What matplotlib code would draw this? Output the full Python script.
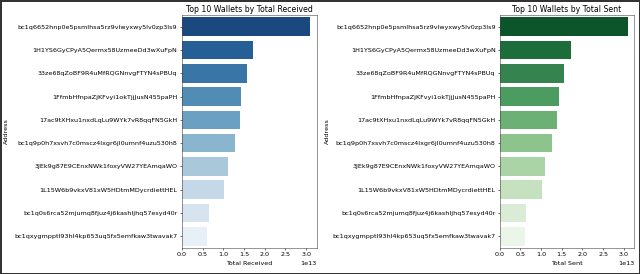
import matplotlib
matplotlib.use('Agg')
import matplotlib.pyplot as plt
import seaborn as sns
import pandas as pd

# wallet addresses (same top 10 for both rankings)
addresses = [
    'bc1q6652hnp0e5psmlhsa5rz9vlwyxwy5lv0zp3ls9',
    '1H1YS6GyCPyA5Qermx58UzmeeDd3wXuFpN',
    '33ze68qZoBF9R4uMfRQGNnvgFTYN4sPBUq',
    '1FfmbHfnpaZjKFvyi1okTjjJusN455paPH',
    '17ac9tXHxu1nxdLqLu9WYk7vR8qqFN5GkH',
    'bc1q9p0h7xsvh7c0mscz4lxgr6jl0umnf4uzu530h8',
    '3JEk9g87E9CEnxNWk1foxyVW27YEAmqaWO',
    '1L15W6b9vkxV81xW5HDtmMDycrdiettHEL',
    'bc1q0s6rca52mjumq8fjuz4j6kashljhq57esyd40r',
    'bc1qxygmpptl93hl4kp653uq5fx5emfkaw3twavak7',
]
total_received = [3.10e13, 1.72e13, 1.57e13, 1.43e13, 1.40e13,
                  1.28e13, 1.12e13, 1.03e13, 0.65e13, 0.61e13]
total_sent = [3.10e13, 1.73e13, 1.56e13, 1.44e13, 1.39e13,
              1.27e13, 1.10e13, 1.02e13, 0.63e13, 0.60e13]
x_ticks = [0, 0.5e13, 1.0e13, 1.5e13, 2.0e13, 2.5e13, 3.0e13]

df_recv = pd.DataFrame({'Address': addresses, 'Total Received': total_received})
df_sent = pd.DataFrame({'Address': addresses, 'Total Sent': total_sent})

fs = 4.6
plt.rcParams['font.size'] = fs
plt.rcParams['axes.linewidth'] = 0.4
plt.rcParams['xtick.major.width'] = 0.4
plt.rcParams['ytick.major.width'] = 0.4
plt.rcParams['xtick.major.size'] = 1.6
plt.rcParams['ytick.major.size'] = 1.6
plt.rcParams['xtick.major.pad'] = 1.5
plt.rcParams['ytick.major.pad'] = 1.5

fig = plt.figure(figsize=(6.4, 2.74), dpi=100)
fig.patch.set_edgecolor('#333333')
fig.patch.set_linewidth(1.8)

ax1 = fig.add_axes([0.284, 0.095, 0.211, 0.85])
ax2 = fig.add_axes([0.781, 0.095, 0.210, 0.85])

sns.barplot(data=df_recv, x='Total Received', y='Address', hue='Address',
            palette='Blues_r', legend=False, ax=ax1)
sns.barplot(data=df_sent, x='Total Sent', y='Address', hue='Address',
            palette='Greens_r', legend=False, ax=ax2)

for ax, title in [(ax1, 'Top 10 Wallets by Total Received'),
                  (ax2, 'Top 10 Wallets by Total Sent')]:
    ax.set_title(title, fontsize=5.6, pad=2)
    ax.tick_params(labelsize=fs)
    ax.xaxis.get_offset_text().set_fontsize(fs)
    ax.set_xlabel(ax.get_xlabel(), fontsize=fs, labelpad=3)
    ax.set_ylabel('Address', fontsize=fs)
    ax.set_xticks(x_ticks)
    for spine in ax.spines.values():
        spine.set_color('#444444')

# y-labels sit far out at the left of each panel
ax1.yaxis.set_label_coords(9 / 640, 0.52, transform=fig.transFigure)
ax2.yaxis.set_label_coords(330 / 640, 0.52, transform=fig.transFigure)

fig.savefig('out.png', dpi=100)
